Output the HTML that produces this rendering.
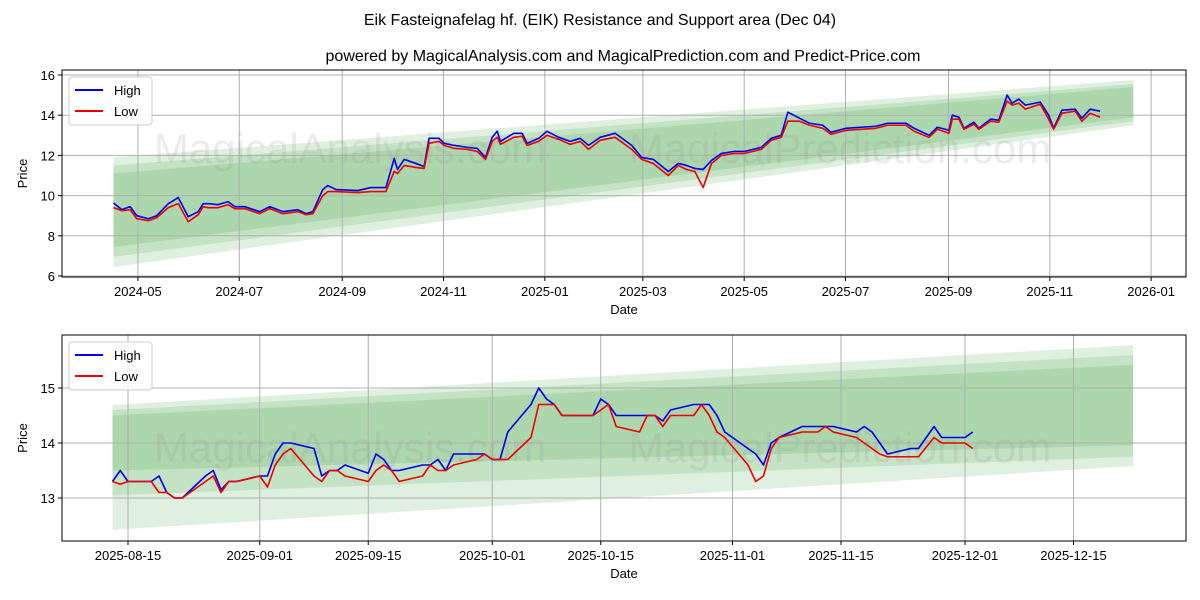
<!DOCTYPE html>
<html><head><meta charset="utf-8"><style>
body{margin:0;background:#fff;}
svg{display:block;font-family:"Liberation Sans","DejaVu Sans",sans-serif;}
</style></head><body>
<svg id="chart" width="1200" height="600" viewBox="0 0 1200 600">
<rect width="1200" height="600" fill="#fff"/>
<text x="600" y="25" text-anchor="middle" font-size="16">Eik Fasteignafelag hf. (EIK) Resistance and Support area (Dec 04)</text>
<text x="623" y="61" text-anchor="middle" font-size="16">powered by MagicalAnalysis.com and MagicalPrediction.com and Predict-Price.com</text>
</svg>
<script>
// ---------- top chart data (days since 2024-04-13) ----------
const topDays=[0,5,10,14,21,26,33,39,45,51,54,57,63,69,73,79,88,94,102,111,116,120,126,129,134,147,155,164,169,171,175,182,187,190,196,199,205,213,219,224,228,231,233,241,246,249,256,261,268,275,281,286,293,302,312,318,325,334,340,345,350,355,360,366,374,380,390,396,402,406,413,419,427,432,441,450,459,466,477,482,491,496,503,505,509,512,518,521,528,533,538,541,545,549,558,563,566,571,579,583,588,594];
const topHigh=[9.63,9.3,9.45,9.0,8.85,9.0,9.6,9.9,8.95,9.2,9.6,9.6,9.55,9.7,9.45,9.45,9.2,9.45,9.2,9.3,9.1,9.2,10.3,10.5,10.3,10.25,10.4,10.4,11.85,11.3,11.8,11.6,11.45,12.85,12.85,12.6,12.5,12.4,12.35,11.9,12.9,13.2,12.7,13.1,13.1,12.6,12.85,13.2,12.9,12.7,12.85,12.5,12.9,13.1,12.5,11.9,11.8,11.2,11.6,11.5,11.35,11.3,11.75,12.1,12.2,12.2,12.4,12.85,13.0,14.15,13.85,13.6,13.5,13.15,13.35,13.4,13.45,13.6,13.6,13.35,13.0,13.4,13.25,14.0,13.9,13.35,13.65,13.35,13.8,13.75,15.0,14.6,14.8,14.5,14.65,14.0,13.35,14.25,14.3,13.85,14.3,14.2];
const topLow=[9.4,9.25,9.3,8.85,8.75,8.9,9.4,9.6,8.7,9.05,9.45,9.4,9.4,9.55,9.35,9.35,9.1,9.35,9.1,9.2,9.05,9.1,10.0,10.2,10.2,10.15,10.2,10.2,11.2,11.1,11.5,11.4,11.35,12.6,12.7,12.5,12.35,12.3,12.2,11.8,12.7,12.9,12.55,12.9,12.95,12.5,12.7,13.0,12.8,12.55,12.7,12.3,12.75,12.9,12.3,11.8,11.6,11.0,11.5,11.3,11.2,10.4,11.6,12.0,12.1,12.1,12.3,12.75,12.9,13.7,13.7,13.5,13.35,13.05,13.25,13.3,13.35,13.5,13.5,13.2,12.9,13.3,13.1,13.8,13.8,13.3,13.55,13.3,13.7,13.65,14.7,14.5,14.6,14.3,14.55,13.8,13.3,14.1,14.2,13.7,14.1,13.9];
const topBandEnd=614;
const topBandTopStart=[11.9,11.5,11.1], topBandTopEnd=[15.75,15.55,15.4];
const topBandBotStart=[6.45,6.95,7.44], topBandBotEnd=[13.5,13.7,13.9];
const topYTicks=[6,8,10,12,14,16];
const topXTickLabels=["2024-05","2024-07","2024-09","2024-11","2025-01","2025-03","2025-05","2025-07","2025-09","2025-11","2026-01"];
const topXTickDays=[18,79,141,202,263,322,383,444,506,567,628];
// ---------- bottom chart data (days since 2025-08-13) ----------
const botDays=[0,1,2,5,6,7,8,9,12,13,14,15,16,19,20,21,22,23,26,27,28,29,30,33,34,35,36,37,40,41,42,43,44,47,48,49,50,51,54,55,56,57,58,62,63,64,65,68,69,70,71,72,75,76,77,78,79,82,83,84,85,86,89,91,92,93,96,97,98,99,100,103,104,106,107,110,111];
const botHigh=[13.3,13.5,13.3,13.3,13.4,13.1,13.0,13.0,13.4,13.5,13.15,13.3,13.3,13.4,13.4,13.8,14.0,14.0,13.9,13.4,13.5,13.5,13.6,13.45,13.8,13.7,13.5,13.5,13.6,13.6,13.7,13.5,13.8,13.8,13.8,13.7,13.7,14.2,14.7,15.0,14.8,14.7,14.5,14.5,14.8,14.7,14.5,14.5,14.5,14.5,14.4,14.6,14.7,14.7,14.7,14.5,14.2,13.9,13.8,13.6,14.0,14.1,14.3,14.3,14.3,14.3,14.2,14.3,14.2,14.0,13.8,13.9,13.9,14.3,14.1,14.1,14.2];
const botLow=[13.3,13.25,13.3,13.3,13.1,13.1,13.0,13.0,13.3,13.4,13.1,13.3,13.3,13.4,13.2,13.6,13.8,13.9,13.4,13.3,13.5,13.5,13.4,13.3,13.5,13.6,13.5,13.3,13.4,13.6,13.5,13.5,13.6,13.7,13.8,13.7,13.7,13.7,14.1,14.7,14.7,14.7,14.5,14.5,14.6,14.7,14.3,14.2,14.5,14.5,14.3,14.5,14.5,14.7,14.5,14.2,14.1,13.6,13.3,13.4,13.9,14.1,14.2,14.2,14.3,14.2,14.1,14.0,13.9,13.8,13.75,13.75,13.75,14.1,14.0,14.0,13.9];
const botBandEnd=131.7;
const botBandTopStart=[14.69,14.6,14.5], botBandTopEnd=[15.78,15.6,15.42];
const botBandBotStart=[12.42,13.05,13.5], botBandBotEnd=[13.58,13.75,13.96];
const botYTicks=[13,14,15];
const botXTickLabels=["2025-08-15","2025-09-01","2025-09-15","2025-10-01","2025-10-15","2025-11-01","2025-11-15","2025-12-01","2025-12-15"];
const botXTickDays=[2,19,33,49,63,80,94,110,124];

const NS="http://www.w3.org/2000/svg";
const svg=document.getElementById('chart');
function mk(tag,attrs,parent){const e=document.createElementNS(NS,tag);for(const k in attrs)e.setAttribute(k,attrs[k]);(parent||svg).appendChild(e);return e;}

function drawPanel(cfg){
  const g=mk('g',{});
  
  
  const X=d=>cfg.x0+d*cfg.pxPerDay;
  const Y=p=>cfg.yRef+(cfg.pRef-p)*cfg.pxPerUnit;
  for(let i=0;i<cfg.bts.length;i++){
    const b=mk('polygon',{points:`${X(0)},${Y(cfg.bts[i])} ${X(cfg.bandEnd)},${Y(cfg.bte[i])} ${X(cfg.bandEnd)},${Y(cfg.bbe[i])} ${X(0)},${Y(cfg.bbs[i])}`,fill:'rgba(0,128,0,0.12)'},g);
    
    
  }
  cfg.yTicks.forEach(t=>{
    const l=mk('line',{x1:cfg.L,x2:cfg.R,y1:Y(t),y2:Y(t),stroke:'#b0b0b0','stroke-width':1},g);
    
    
    mk('line',{x1:cfg.L-4,x2:cfg.L,y1:Y(t),y2:Y(t),stroke:'#000'},g);
    const tx=mk('text',{x:cfg.L-7,y:Y(t)+5,'text-anchor':'end','font-size':13},g);
    tx.textContent=t;
    
    
  });
  cfg.xDays.forEach((d,i)=>{
    const l=mk('line',{x1:X(d),x2:X(d),y1:cfg.T,y2:cfg.B,stroke:'#b0b0b0','stroke-width':1},g);
    
    
    mk('line',{x1:X(d),x2:X(d),y1:cfg.B,y2:cfg.B+4,stroke:'#000'},g);
    const tx=mk('text',{x:X(d),y:cfg.B+19,'text-anchor':'middle','font-size':13},g);
    tx.textContent=cfg.xLabels[i];
    
    
  });
  cfg.wm.forEach(w=>{
    const t=mk('text',{x:w[0],y:w[1],'font-size':42,fill:'rgba(150,150,150,0.18)','text-anchor':'middle'},g);
    t.textContent=w[2];
    
    
  });
  const pl=(days,vals,color,name)=>{
    const p=mk('polyline',{points:days.map((d,i)=>X(d)+','+Y(vals[i])).join(' '),fill:'none',stroke:color,'stroke-width':1.6,'stroke-linejoin':'round'},g);
    
    
  };
  pl(cfg.days,cfg.high,'#0000ee','high-line');
  pl(cfg.days,cfg.low,'#ee0000','low-line');
  const f=mk('rect',{x:cfg.L,y:cfg.T,width:cfg.R-cfg.L,height:cfg.B-cfg.T,fill:'none',stroke:'#000','stroke-width':1},g);
  
  
  const xt=mk('text',{x:(cfg.L+cfg.R)/2,y:cfg.B+37,'text-anchor':'middle','font-size':13},g);
  xt.textContent='Date';
  
  
  const yt=mk('text',{x:0,y:0,'text-anchor':'middle','font-size':13,transform:`translate(27,${(cfg.T+cfg.B)/2}) rotate(-90)`},g);
  yt.textContent='Price';
  
  
  const lg=mk('g',{},g);
  
  
  mk('rect',{x:cfg.L+7,y:cfg.T+7,width:83,height:48,rx:3,fill:'rgba(255,255,255,0.85)',stroke:'#ccc'},lg);
  [['High','#0000ee',0],['Low','#ee0000',1]].forEach(e=>{
    const yy=cfg.T+20+e[2]*21;
    mk('line',{x1:cfg.L+13,x2:cfg.L+41,y1:yy,y2:yy,stroke:e[1],'stroke-width':2},lg);
    const t=mk('text',{x:cfg.L+52,y:yy+5,'font-size':13},lg);
    t.textContent=e[0];
    
    
  });
}
drawPanel({name:'top-panel',L:62,R:1186,T:70,B:277,x0:113.5,pxPerDay:1.661,yRef:75,pRef:16,pxPerUnit:20.1,
  days:topDays,high:topHigh,low:topLow,bandEnd:topBandEnd,bts:topBandTopStart,bte:topBandTopEnd,bbs:topBandBotStart,bbe:topBandBotEnd,
  yTicks:topYTicks,xDays:topXTickDays.map(d=>d-3.3),xLabels:topXTickLabels,wm:[[350,163,'MagicalAnalysis.com'],[840,163,'MagicalPrediction.com']]});
drawPanel({name:'bottom-panel',L:62,R:1186,T:335,B:541,x0:112.5,pxPerDay:7.75,yRef:443,pRef:14,pxPerUnit:55,
  days:botDays,high:botHigh,low:botLow,bandEnd:botBandEnd,bts:botBandTopStart,bte:botBandTopEnd,bbs:botBandBotStart,bbe:botBandBotEnd,
  yTicks:botYTicks,xDays:botXTickDays,xLabels:botXTickLabels,wm:[[350,462,'MagicalAnalysis.com'],[840,462,'MagicalPrediction.com']]});
</script>
</body></html>
